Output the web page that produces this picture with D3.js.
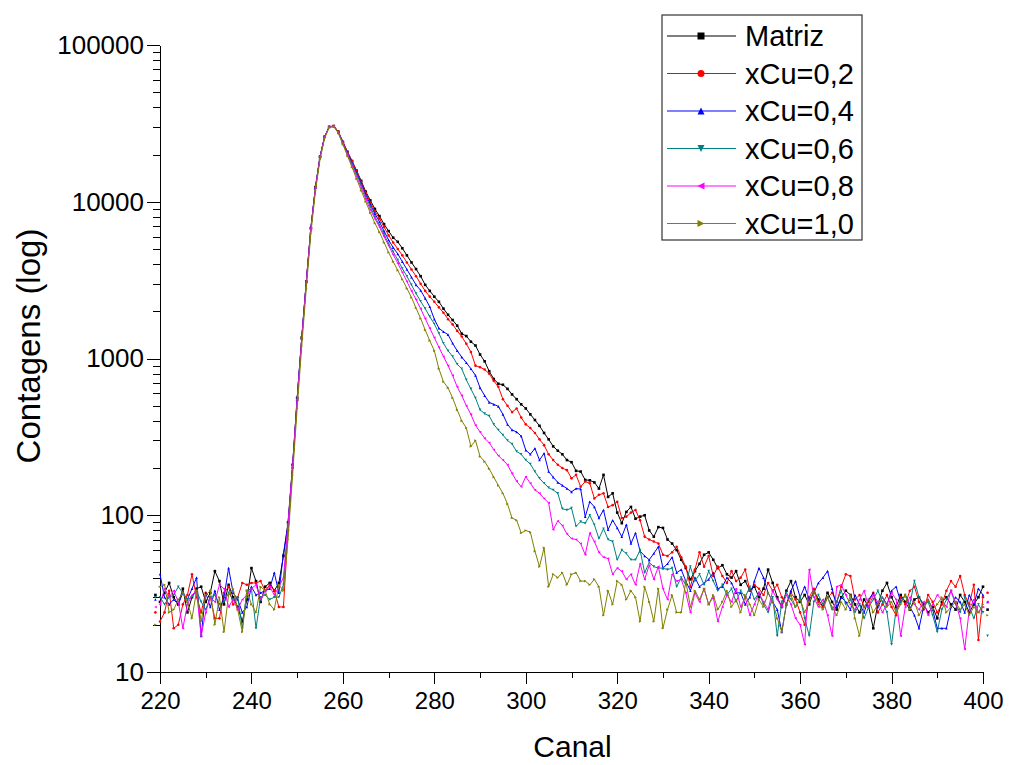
<!DOCTYPE html>
<html>
<head>
<meta charset="utf-8">
<script src="https://cdn.jsdelivr.net/npm/d3@7"></script>
<style>
  body { margin: 0; background: #fff; }
  svg { display: block; font-family: "Liberation Sans", Arial, sans-serif; }
  .axis path, .axis line { stroke: #000; stroke-width: 1px; shape-rendering: crispEdges; }
  .axis text { fill: #000; }
</style>
</head>
<body>
<svg id="chart" width="1009" height="765"></svg>
<script>
// ---------------------- DATA ----------------------
// channels 219..401 (points outside 220..400 only show as markers)
const canal = d3.range(219, 402);

const matriz = [
  31, 28, 32, 37, 30, 27, 34, 24, 30, 34,
  35, 28, 32, 44, 38, 27, 36, 30, 26, 21,
  29, 46, 38, 28, 35, 37, 33, 37, 55, 90,
  210, 560, 1360, 3100, 6800, 12400, 19400, 26000, 30000, 30400,
  28000, 24000, 20800, 18200, 15800, 13600, 11600, 10200, 9000, 8100,
  7200, 6500, 5900, 5550, 5050, 4550, 4100, 3720, 3350, 2950,
  2700, 2480, 2300, 2080, 1900, 1760, 1620, 1440, 1390, 1280,
  1210, 1060, 960, 830, 740, 690, 680, 640, 590, 550,
  510, 480, 440, 405, 372, 335, 305, 275, 258, 245,
  225, 218, 192, 190, 168, 167, 162, 148, 181, 131,
  138, 104, 89, 105, 113, 95, 98, 100, 80, 73,
  84, 83, 70, 66, 60, 52, 46, 39, 44, 49,
  56, 58, 52, 46, 48, 42, 40, 44, 36, 38,
  33, 35, 30, 34, 45, 37, 30, 26, 33, 38,
  30, 28, 31, 27, 33, 29, 26, 32, 28, 25,
  30, 33, 31, 27, 24, 29, 26, 19, 27, 33,
  37, 30, 26, 31, 28, 25, 29, 30, 27, 24,
  26, 22, 28, 30, 27, 25, 31, 28, 24, 27,
  30, 35, 25
];

const xCu02 = [
  24, 21, 24, 33, 19, 20, 27, 31, 42, 30,
  24, 32, 30, 22, 22, 32, 35, 27, 30, 37,
  36, 37, 37, 38, 33, 36, 33, 26, 26, 80,
  200, 540, 1330, 3080, 6750, 12300, 19300, 26000, 30100, 30400,
  28000, 24200, 20800, 18100, 15700, 13400, 11400, 9900, 8700, 7800,
  6900, 6100, 5500, 5000, 4550, 4100, 3700, 3350, 3000, 2700,
  2480, 2300, 2120, 1960, 1780, 1650, 1500, 1380, 1240, 1100,
  900, 880, 850, 800, 720, 660, 550, 500, 455, 480,
  420, 380, 360, 335, 305, 280, 245, 225, 210, 200,
  194, 172, 181, 152, 164, 160, 128, 135, 138, 113,
  116, 122, 96, 98, 104, 108, 93, 73, 70, 68,
  66, 56, 55, 58, 63, 54, 47, 35, 45, 58,
  47, 55, 41, 47, 41, 37, 44, 38, 40, 45,
  33, 36, 34, 31, 37, 33, 36, 30, 27, 32,
  29, 24, 20, 30, 34, 28, 26, 30, 32, 28,
  35, 42, 41, 29, 31, 26, 28, 32, 24, 27,
  31, 26, 23, 30, 27, 33, 35, 28, 25, 31,
  28, 24, 27, 33, 38, 35, 41, 31, 27, 36,
  16, 30, 32
];

const xCu04 = [
  29, 42, 30, 27, 29, 27, 32, 29, 34, 40,
  17, 32, 26, 33, 25, 30, 46, 32, 29, 24,
  26, 35, 31, 32, 33, 34, 43, 32, 57, 87,
  204, 552, 1346, 3090, 6776, 12360, 19360, 26000, 30100, 30400,
  27800, 23900, 20500, 17700, 15300, 13100, 11100, 9600, 8400, 7450,
  6500, 5700, 5100, 4650, 4150, 3700, 3300, 2950, 2720, 2420,
  2140, 1780, 1560, 1480, 1420, 1250, 1120, 1020, 940, 860,
  780, 650, 580, 525, 510, 495, 440, 380, 350, 340,
  320, 260, 245, 267, 225, 248, 190, 175, 162, 155,
  148, 141, 148, 147, 98, 122, 113, 96, 108, 81,
  93, 83, 73, 87, 66, 77, 59, 55, 52, 57,
  63, 46, 49, 54, 43, 45, 38, 33, 40, 35,
  37, 39, 43, 34, 35, 40, 37, 32, 32, 27,
  30, 38, 46, 40, 32, 28, 25, 18, 27, 33,
  38, 30, 35, 29, 32, 37, 40, 44, 34, 26,
  30, 28, 25, 31, 27, 24, 29, 32, 26, 30,
  27, 33, 35, 28, 31, 26, 23, 19, 26, 29,
  25, 19, 19, 19, 26, 30, 28, 24, 31, 27,
  34, 31, 28
];

const xCu06 = [
  30, 30, 27, 30, 31, 35, 32, 29, 30, 33,
  28, 25, 30, 31, 27, 28, 32, 29, 30, 19,
  33, 34, 19, 30, 31, 29, 30, 30, 36, 85,
  200, 545, 1330, 3050, 6700, 12200, 19200, 25800, 30000, 30300,
  27700, 23700, 20300, 17400, 15000, 12800, 10800, 9300, 8000, 7100,
  6200, 5400, 4800, 4250, 3750, 3350, 2950, 2600, 2320, 2080,
  1850, 1660, 1450, 1250, 1120, 1030, 920, 860, 730, 640,
  560, 470, 445, 430, 380, 350, 325, 300, 285, 255,
  245, 225, 212, 190, 172, 160, 150, 145, 138, 110,
  108, 111, 85, 91, 89, 100, 87, 71, 82, 70,
  68, 52, 60, 57, 52, 52, 60, 43, 50, 47,
  46, 46, 45, 46, 35, 40, 36, 47, 38, 42,
  36, 44, 38, 33, 36, 31, 34, 28, 33, 30,
  35, 29, 32, 27, 24, 30, 17, 28, 32, 29,
  26, 30, 22, 17, 28, 31, 27, 30, 25, 28,
  33, 27, 29, 24, 27, 22, 26, 29, 33, 28,
  24, 15, 25, 28, 31, 27, 38, 30, 26, 28,
  23, 18, 25, 29, 33, 27, 24, 30, 26, 22,
  27, 24, 17
];

const xCu08 = [
  26, 27, 34, 30, 33, 28, 19, 27, 31, 33,
  17, 24, 30, 28, 36, 34, 26, 29, 25, 29,
  31, 34, 36, 29, 33, 35, 31, 35, 40, 88,
  205, 550, 1340, 3080, 6750, 12300, 19300, 25900, 30000, 30400,
  27600, 23500, 20000, 17000, 14500, 12300, 10400, 8900, 7800, 6900,
  6000, 5250, 4600, 4050, 3550, 3100, 2700, 2380, 2080, 1800,
  1560, 1360, 1180, 1030, 900, 780, 660, 580, 500, 440,
  375, 340, 310, 290, 262, 240, 225, 210, 185, 165,
  152, 176, 160, 145, 138, 128, 120, 81, 92, 86,
  76, 71, 70, 66, 56, 77, 68, 58, 54, 53,
  42, 46, 44, 39, 42, 36, 49, 39, 48, 39,
  47, 34, 29, 42, 38, 39, 32, 24, 32, 28,
  34, 27, 30, 21, 26, 31, 28, 34, 26, 30,
  23, 27, 32, 28, 25, 33, 29, 26, 31, 27,
  22, 20, 15, 45, 30, 26, 29, 23, 17, 35,
  36, 31, 27, 25, 29, 33, 26, 31, 28, 24,
  27, 32, 29, 17, 26, 30, 27, 25, 28, 23,
  27, 31, 29, 26, 33, 28, 22, 14, 25, 29,
  24, 26, 28
];

const xCu10 = [
  20, 35, 36, 24, 25, 29, 32, 28, 22, 33,
  21, 31, 33, 20, 30, 18, 31, 34, 25, 18,
  33, 27, 24, 35, 33, 27, 25, 36, 33, 70,
  180, 480, 1200, 2800, 6300, 11700, 18600, 25400, 29700, 30200,
  27400, 23200, 19600, 16600, 14000, 11800, 10000, 8500, 7300, 6400,
  5500, 4750, 4150, 3650, 3200, 2800, 2450, 2100, 1800, 1520,
  1300, 1120, 860, 710, 650, 560, 470, 400, 360, 275,
  300, 237, 220, 198, 175, 155, 138, 118, 96, 93,
  77, 80, 78, 59, 47, 62, 35, 42, 40, 43,
  36, 42, 43, 38, 38, 36, 39, 35, 23, 33,
  27, 38, 36, 29, 33, 30, 21, 35, 28, 21,
  34, 19, 25, 31, 24, 24, 38, 26, 33, 29,
  34, 27, 31, 25, 28, 33, 26, 29, 24, 31,
  27, 23, 29, 26, 32, 28, 22, 18, 27, 31,
  26, 29, 24, 28, 33, 27, 25, 30, 26, 23,
  28, 25, 31, 22, 17, 26, 29, 24, 27, 30,
  26, 28, 24, 27, 31, 25, 28, 23, 26, 29,
  25, 27, 30, 24, 26, 28, 25, 27, 23, 26,
  24, 27, 23
];

const seriesNames = ["Matriz", "xCu=0,2", "xCu=0,4", "xCu=0,6", "xCu=0,8", "xCu=1,0"];
const seriesValues = [matriz, xCu02, xCu04, xCu06, xCu08, xCu10];
const yTickLabels = ["10", "100", "1000", "10000", "100000"];
const xTickValues = [220, 240, 260, 280, 300, 320, 340, 360, 380, 400];

// styles
const colors = ["#000000", "#ff0000", "#0000ff", "#008080", "#ff00ff", "#808000"];
const symbolTypes = ["square", "circle", "triUp", "triDown", "triLeft", "triRight"];

// ---------------------- SETUP ----------------------
const svg = d3.select("#chart");
const W = 1009, H = 765;
const margin = {left: 160, right: W - 983, top: 45, bottom: H - 672};

svg.append("rect").attr("width", W).attr("height", H).attr("fill", "#fff");

const x = d3.scaleLinear().domain([220, 400]).range([margin.left, W - margin.right]);
const y = d3.scaleLog().domain([10, 100000]).range([H - margin.bottom, margin.top]);

// symbol path for a marker of half-size r
function markerPath(type, r) {
  switch (type) {
    case "square": return `M${-r},${-r}h${2 * r}v${2 * r}h${-2 * r}Z`;
    case "circle": return d3.symbol(d3.symbolCircle, Math.PI * r * r)();
    case "triUp": return `M0,${-r}L${r},${r}L${-r},${r}Z`;
    case "triDown": return `M0,${r}L${r},${-r}L${-r},${-r}Z`;
    case "triLeft": return `M${-r},0L${r},${-r}L${r},${r}Z`;
    case "triRight": return `M${r},0L${-r},${-r}L${-r},${r}Z`;
  }
}

// ---------------------- AXES ----------------------
const yMajor = yTickLabels.map(Number);
const yMinor = [];
yMajor.slice(0, -1).forEach(d => { for (let k = 2; k <= 9; k++) yMinor.push(d * k); });

const yAxisG = svg.append("g").attr("class", "axis")
  .attr("transform", `translate(${margin.left},0)`)
  .call(d3.axisLeft(y).tickValues(yMajor).tickFormat((d, i) => yTickLabels[i])
    .tickSize(13).tickSizeOuter(0).tickPadding(3));
yAxisG.selectAll("text").attr("font-size", 26);

svg.append("g").attr("class", "axis")
  .attr("transform", `translate(${margin.left},0)`)
  .call(d3.axisLeft(y).tickValues(yMinor).tickFormat("").tickSize(7).tickSizeOuter(0))
  .select(".domain").remove();

const xMinor = d3.range(230, 400, 20);
const xAxisG = svg.append("g").attr("class", "axis")
  .attr("transform", `translate(0,${H - margin.bottom})`)
  .call(d3.axisBottom(x).tickValues(xTickValues).tickFormat(d3.format("d"))
    .tickSize(12).tickSizeOuter(0).tickPadding(8));
xAxisG.selectAll("text").attr("font-size", 24);

svg.append("g").attr("class", "axis")
  .attr("transform", `translate(0,${H - margin.bottom})`)
  .call(d3.axisBottom(x).tickValues(xMinor).tickFormat("").tickSize(6).tickSizeOuter(0))
  .select(".domain").remove();

// axis titles
svg.append("text")
  .attr("x", (x.range()[0] + x.range()[1]) / 2 + 1)
  .attr("y", 757)
  .attr("text-anchor", "middle")
  .attr("font-size", 30)
  .text("Canal");

svg.append("text")
  .attr("transform", "translate(40,346) rotate(-90)")
  .attr("text-anchor", "middle")
  .attr("font-size", 33)
  .text("Contagens (log)");

// ---------------------- SERIES ----------------------
svg.append("clipPath").attr("id", "plot-clip")
  .append("rect")
  .attr("x", margin.left).attr("y", margin.top)
  .attr("width", x.range()[1] - x.range()[0])
  .attr("height", y.range()[0] - y.range()[1]);

const line = d3.line()
  .x(d => x(d.c))
  .y(d => y(d.v));

seriesValues.forEach((vals, s) => {
  const pts = canal.map((c, i) => ({c: c, v: vals[i]}));
  const g = svg.append("g").attr("class", "series");

  g.append("path")
    .datum(pts)
    .attr("clip-path", "url(#plot-clip)")
    .attr("fill", "none")
    .attr("stroke", colors[s])
    .attr("stroke-width", 1)
    .attr("d", line);

  g.selectAll(".pt")
    .data(pts)
    .enter().append("path")
    .attr("class", "pt")
    .attr("transform", d => `translate(${x(d.c)},${y(d.v)})`)
    .attr("d", markerPath(symbolTypes[s], 1.3))
    .attr("fill", colors[s]);
});

// ---------------------- LEGEND ----------------------
const legend = svg.append("g").attr("transform", "translate(662,15)");
legend.append("rect")
  .attr("width", 200).attr("height", 225)
  .attr("fill", "#fff")
  .attr("stroke", "#333")
  .attr("stroke-width", 1.2);

seriesNames.forEach((name, s) => {
  const row = legend.append("g").attr("transform", `translate(0,${21 + s * 37.5})`);
  row.append("line")
    .attr("x1", 5).attr("x2", 74)
    .attr("stroke", colors[s]).attr("stroke-width", 1.2);
  row.append("path")
    .attr("transform", "translate(39,0)")
    .attr("d", markerPath(symbolTypes[s], 3.5))
    .attr("fill", colors[s]);
  row.append("text")
    .attr("x", 83).attr("y", 10)
    .attr("font-size", 29)
    .text(name);
});
</script>
</body>
</html>
